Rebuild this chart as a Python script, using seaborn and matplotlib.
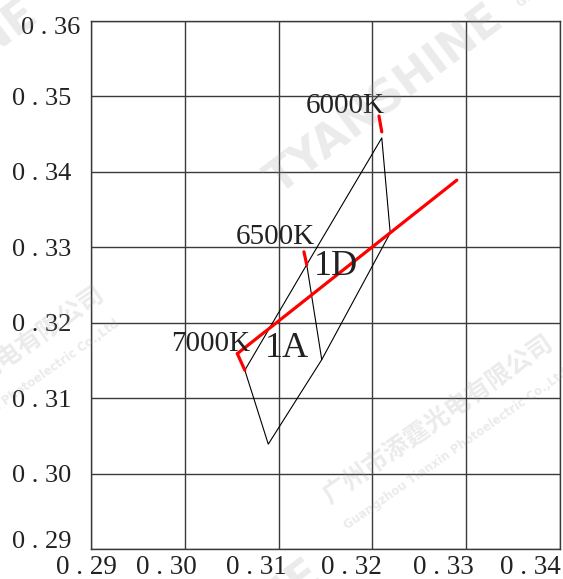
import matplotlib
matplotlib.use("Agg")
import matplotlib.pyplot as plt
import matplotlib.transforms as mtransforms
import seaborn as sns

# chromaticity bins (CIE x, y)
bin_1a_x = [0.3064, 0.3130, 0.3146, 0.3089, 0.3064]
bin_1a_y = [0.3137, 0.3277, 0.3151, 0.3039, 0.3137]
bin_1d_x = [0.3130, 0.3210, 0.3219, 0.3146]
bin_1d_y = [0.3277, 0.3445, 0.3319, 0.3151]

# black body locus segment
locus_x = [0.3056, 0.3290]
locus_y = [0.3159, 0.3389]

# CCT markers: name, start point, end point
cct_names = ["7000K", "6500K", "6000K"]
cct_x0 = [0.3056, 0.3127, 0.3207]
cct_y0 = [0.3159, 0.3294, 0.3474]
cct_x1 = [0.3064, 0.3130, 0.3210]
cct_y1 = [0.3137, 0.3277, 0.3453]
cct_label_x = [0.3070, 0.3139, 0.3213]
cct_label_y = [0.3172, 0.3313, 0.3487]

bin_names = ["1A", "1D"]
bin_label_x = [0.3109, 0.3161]
bin_label_y = [0.3166, 0.3275]

x_ticks = [0.29, 0.30, 0.31, 0.32, 0.33, 0.34]
y_ticks = [0.29, 0.30, 0.31, 0.32, 0.33, 0.34, 0.35, 0.36]

sns.set_style("white")
plt.rcParams["font.family"] = ["Liberation Serif", "DejaVu Serif"]


def tick_text(v):
    return f"{v:.2f}".replace(".", " . ")


fig = plt.figure(figsize=(5.63, 5.79), dpi=100)
ax = fig.add_axes([91 / 563, 30 / 579, 469 / 563, 528 / 579])

# bins outline
sns.lineplot(x=bin_1a_x, y=bin_1a_y, sort=False, estimator=None, color="black", lw=0.8, ax=ax)
sns.lineplot(x=bin_1d_x, y=bin_1d_y, sort=False, estimator=None, color="black", lw=0.8, ax=ax)

# locus
sns.lineplot(x=locus_x, y=locus_y, sort=False, estimator=None, color="#ff0000", lw=2.3, ax=ax)
for i in range(len(cct_names)):
    sns.lineplot(x=[cct_x0[i], cct_x1[i]], y=[cct_y0[i], cct_y1[i]], sort=False,
                 estimator=None, color="#ff0000", lw=2.3, ax=ax)
    ax.text(cct_label_x[i], cct_label_y[i], cct_names[i], ha="right",
            va="center", fontsize=21, color="#222222")

for i in range(len(bin_names)):
    ax.text(bin_label_x[i], bin_label_y[i], bin_names[i], ha="center", va="center",
            fontsize=26, color="#222222")

ax.set_xlim(x_ticks[0], x_ticks[-1])
ax.set_ylim(y_ticks[0], y_ticks[-1])
ax.set_xticks(x_ticks)
ax.set_yticks(y_ticks)
ax.set_xticklabels([tick_text(v) for v in x_ticks], fontsize=19.5)
ax.set_yticklabels([tick_text(v) for v in y_ticks], fontsize=19)
ax.tick_params(length=0, colors="#222222")
ax.tick_params(axis="x", pad=4)
ax.tick_params(axis="y", pad=14)
ax.grid(True, color="#3a3a3a", lw=1.0)
ax.set_axisbelow(True)
for sp in ax.spines.values():
    sp.set_color("#3a3a3a")
    sp.set_linewidth(1.0)


def nudge(lab, dx, dy):
    lab.set_transform(lab.get_transform() + mtransforms.ScaledTranslation(dx / 100, dy / 100, fig.dpi_scale_trans))


# x labels sit a little left of their grid lines
for lab, dx in zip(ax.get_xticklabels(), [-5, -18, -22, -21, -23, -30]):
    nudge(lab, dx, 0)
ylabs = ax.get_yticklabels()
nudge(ylabs[0], 0, 10)
nudge(ylabs[-1], 9, -4)

# watermarks
wm = dict(color="#9a9a9a", alpha=0.2, rotation_mode="anchor", zorder=10)
for cx, cy in [(385, 100), (-80, 95), (204, 655)]:
    fig.text(cx / 563, 1 - cy / 579, "TYANSHINE", ha="center", va="center", rotation=37,
             fontsize=32, fontweight="heavy", family=["DejaVu Sans"], **wm)
for sx, sy in [(330, 505), (-119, 456), (503, -17)]:
    fig.text(sx / 563, 1 - sy / 579, "广州市添霆光电有限公司", ha="left", va="baseline",
             rotation=35, fontsize=18, fontweight="bold",
             family=["Noto Sans CJK SC", "DejaVu Sans"], **wm)
    fig.text((sx + 17) / 563, 1 - (sy + 25) / 579, "Guangzhou Tianxin Photoelectric Co.,Ltd",
             ha="left", va="baseline", rotation=35, fontsize=8.5, fontweight="bold",
             family=["DejaVu Sans"], **wm)

fig.savefig("out.png", dpi=100)
